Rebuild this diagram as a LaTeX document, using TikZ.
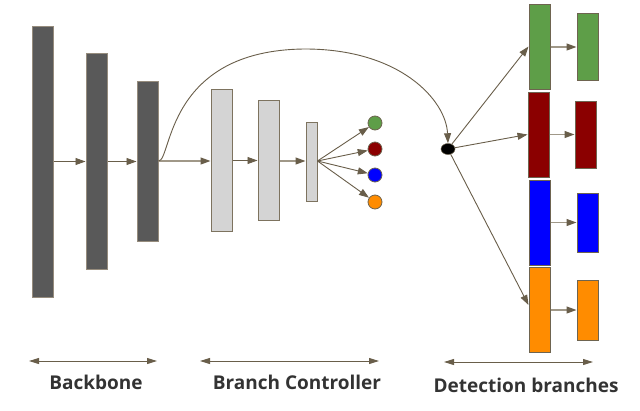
\documentclass[tikz,border=0pt]{standalone}
\usepackage{fontspec}
\setmainfont{Open Sans}
\usetikzlibrary{arrows.meta,shapes.geometric}
\definecolor{arr}{RGB}{105,94,74}
\definecolor{arrlight}{RGB}{160,152,136}
\definecolor{dkbar}{RGB}{89,89,89}
\definecolor{dkedge}{RGB}{150,140,125}
\definecolor{ltbar}{RGB}{212,212,212}
\definecolor{ltedge}{RGB}{125,115,95}
\definecolor{gfill}{RGB}{94,158,72}
\definecolor{rfill}{RGB}{139,0,0}
\definecolor{bfill}{RGB}{0,0,255}
\definecolor{ofill}{RGB}{255,140,0}
\definecolor{cedge}{RGB}{110,100,80}
\definecolor{labc}{RGB}{51,51,51}
\begin{document}
\begin{tikzpicture}[x=1pt,y=-1pt,
  box/.style={rectangle,inner sep=0pt,line width=1pt},
  darkbar/.style={box,fill=dkbar,draw=dkedge},
  lightbar/.style={box,fill=ltbar,draw=ltedge},
  colbar/.style={box,draw=cedge},
  circ/.style={circle,inner sep=0pt,minimum size=14pt,draw=cedge,line width=0.8pt},
  conn/.style={draw=arr,line width=0.9pt,-{Triangle[length=10pt,width=7pt]}},
  connl/.style={draw=arrlight,line width=1.2pt,-{Triangle[length=10pt,width=7pt,color=arr]}},
  span/.style={draw=arr,line width=0.9pt,{Triangle[length=10pt,width=6pt]}-{Triangle[length=10pt,width=6pt]}},
  lab/.style={font=\bfseries\fontsize{19}{22}\selectfont,text=labc,inner sep=0pt}
]
\useasboundingbox (0,0) rectangle (640,410);
% backbone
\node[darkbar,minimum width=21pt,minimum height=271pt] (b1) at (42.5,161.5) {};
\node[darkbar,minimum width=21pt,minimum height=216pt] (b2) at (96.5,161) {};
\node[darkbar,minimum width=21pt,minimum height=160pt] (b3) at (147.5,161) {};
% branch controller
\node[lightbar,minimum width=21pt,minimum height=142pt] (c1) at (221.5,160) {};
\node[lightbar,minimum width=21pt,minimum height=120pt] (c2) at (268.5,160) {};
\node[lightbar,minimum width=11pt,minimum height=79pt] (c3) at (311.5,161.5) {};
\node[circ,fill=gfill] (cg) at (375,123) {};
\node[circ,fill=rfill] (cr) at (375,149) {};
\node[circ,fill=bfill] (cb) at (375,175) {};
\node[circ,fill=ofill] (co) at (375,202) {};
% dot
\node[ellipse,fill=black,draw=cedge,line width=0.5pt,minimum width=14pt,minimum height=11pt,inner sep=0pt] (dot) at (448,149) {};
% detection branches
\node[colbar,fill=gfill,minimum width=21pt,minimum height=85pt] (g1) at (539.5,46.5) {};
\node[colbar,fill=gfill,minimum width=21pt,minimum height=67pt] (g2) at (587.5,46.5) {};
\node[colbar,fill=rfill,minimum width=21pt,minimum height=85pt] (r1) at (538.5,134.5) {};
\node[colbar,fill=rfill,minimum width=21pt,minimum height=67pt] (r2) at (585.5,134.5) {};
\node[colbar,fill=bfill,minimum width=21pt,minimum height=85pt] (u1) at (539.5,222.5) {};
\node[colbar,fill=bfill,minimum width=21pt,minimum height=59pt] (u2) at (587.5,222.5) {};
\node[colbar,fill=ofill,minimum width=21pt,minimum height=85pt] (o1) at (539.5,309.5) {};
\node[colbar,fill=ofill,minimum width=21pt,minimum height=60pt] (o2) at (587.5,310) {};
% connectors
\draw[conn] (b1.east |- 0,161.5) -- (b2.west |- 0,161.5);
\draw[conn] (b2.east |- 0,161.5) -- (b3.west |- 0,161.5);
\draw[connl] (b3.east |- 0,161) -- (c1.west |- 0,161);
\draw[conn] (c1.east |- 0,160.5) -- (c2.west |- 0,160.5);
\draw[connl] (c2.east |- 0,161) -- (c3.west |- 0,161);
\coordinate (fan) at (c3.east |- 0,161);
\draw[conn] (fan) -- (cg);
\draw[conn] (fan) -- (cr);
\draw[conn] (fan) -- (cb);
\draw[conn] (fan) -- (co);
\draw[conn] (b3.east |- 0,161) .. controls (172,161) and (165,50) .. (305,49)
  .. controls (400,49) and (446,100) .. (dot.north);
\draw[conn] (dot) -- (g1.west);
\draw[conn] (dot) -- (r1.west);
\draw[conn] (dot) -- (o1.west |- 0,305);
\draw[connl] (g1.east |- 0,47) -- (g2.west |- 0,47);
\draw[connl] (r1.east) -- (r2.west);
\draw[connl] (u1.east) -- (u2.west);
\draw[connl] (o1.east |- 0,310) -- (o2.west |- 0,310);
% spans
\coordinate (s1a) at (29,361); \coordinate (s1b) at (157,361);
\coordinate (s2a) at (200,361); \coordinate (s2b) at (379,361);
\coordinate (s3a) at (444,362); \coordinate (s3b) at (593,362);
\draw[span] (s1a) -- (s1b);
\draw[span] (s2a) -- (s2b);
\draw[span] (s3a) -- (s3b);
\node[lab] (l1) at (96,382) {Backbone};
\node[lab] (l2) at (297,382) {Branch Controller};
\node[lab] (l3) at (526,385) {Detection branches};
\end{tikzpicture}
\end{document}
